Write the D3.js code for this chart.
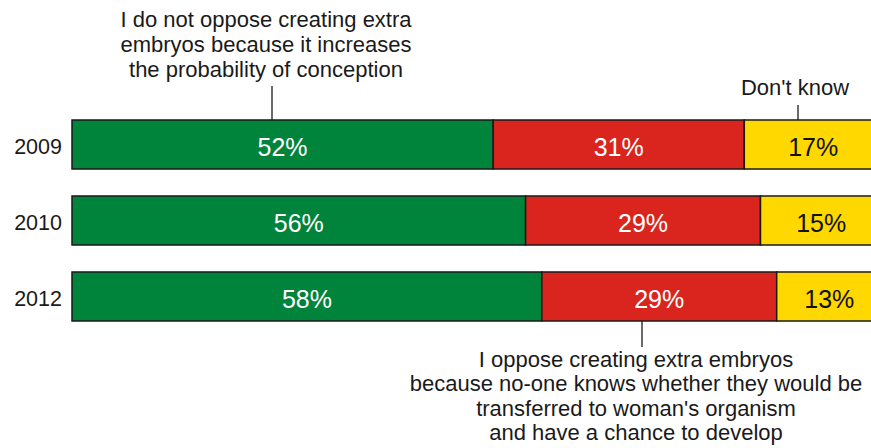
<!DOCTYPE html>
<html>
<head>
<meta charset="utf-8">
<script src="https://cdn.jsdelivr.net/npm/d3@7"></script>
<style>
  html, body { margin: 0; padding: 0; background: #fff; }
  svg { display: block; }
  text { font-family: "Liberation Sans", Arial, sans-serif; }
</style>
</head>
<body>
<svg id="chart" width="871" height="448"></svg>
<script>
// ---- data ----
const years = ["2009", "2010", "2012"];
const seriesNames = ["Do not oppose", "Oppose", "Don't know"];
const notOppose = [52, 56, 58];
const oppose = [31, 29, 29];
const dontKnow = [17, 15, 13];
const annotationTop = ["I do not oppose creating extra", "embryos because it increases", "the probability of conception"];
const annotationDK = ["Don't know"];
const annotationBottom = ["I oppose creating extra embryos", "because no-one knows whether they would be", "transferred to woman's organism", "and have a chance to develop"];

// ---- layout ----
const W = 871, H = 448;
const svg = d3.select("#chart");
const colors = ["#00833b", "#d9251d", "#ffd800"];
const labelColors = ["#ffffff", "#ffffff", "#111111"];

const x = d3.scaleLinear().domain([0, 100]).range([72, 882]);
const y = d3.scaleBand().domain(years).range([120, 321]).paddingInner(0.355).paddingOuter(0);

const rows = years.map((yr, i) => {
  const vals = [notOppose[i], oppose[i], dontKnow[i]];
  let acc = 0;
  return { year: yr, segs: vals.map((v, k) => { const s = { k, v, x0: acc, x1: acc + v, year: yr }; acc += v; return s; }) };
});

const g = svg.append("g");
const rowG = g.selectAll("g.row").data(rows).join("g").attr("class", "row");

rowG.selectAll("rect").data(d => d.segs).join("rect")
  .attr("x", d => x(d.x0))
  .attr("y", d => y(d.year))
  .attr("width", d => x(d.x1) - x(d.x0))
  .attr("height", y.bandwidth())
  .attr("fill", d => colors[d.k])
  .attr("stroke", "#1a1a1a")
  .attr("stroke-width", 1.5);

rowG.selectAll("text.val").data(d => d.segs).join("text")
  .attr("class", "val")
  .attr("x", d => (x(d.x0) + x(d.x1)) / 2)
  .attr("y", d => y(d.year) + y.bandwidth() / 2 + 11.5)
  .attr("text-anchor", "middle")
  .attr("font-size", 25)
  .attr("fill", d => labelColors[d.k])
  .text(d => d.v + "%");

// year labels (axis)
const yAxis = d3.axisLeft(y).tickSize(0).tickPadding(10);
const ax = svg.append("g").attr("transform", "translate(72,0)").call(yAxis);
ax.select(".domain").remove();
ax.selectAll("text")
  .attr("font-size", 21.5)
  .attr("fill", "#1a1a1a")
  .attr("dy", null)
  .attr("y", 9.5)
  .style("font-family", "'Liberation Sans', Arial, sans-serif");

// annotations
function block(lines, cx, baseline0, lh) {
  svg.append("text")
    .attr("text-anchor", "middle")
    .attr("font-size", 22)
    .attr("fill", "#1a1a1a")
    .selectAll("tspan").data(lines).join("tspan")
    .attr("x", cx)
    .attr("y", (d, i) => baseline0 + i * lh)
    .text(d => d);
}
function tick(px, y1, y2) {
  svg.append("line").attr("x1", px).attr("x2", px).attr("y1", y1).attr("y2", y2)
    .attr("stroke", "#1a1a1a").attr("stroke-width", 1.3);
}

block(annotationTop, 266, 27, 25);
tick(272, 86, y("2009"));
block(annotationDK, 795, 95, 25);
tick(798, 105, y("2009"));
block(annotationBottom, 636, 366.5, 24.6);
tick(642, y("2012") + y.bandwidth(), 347);
</script>
</body>
</html>
